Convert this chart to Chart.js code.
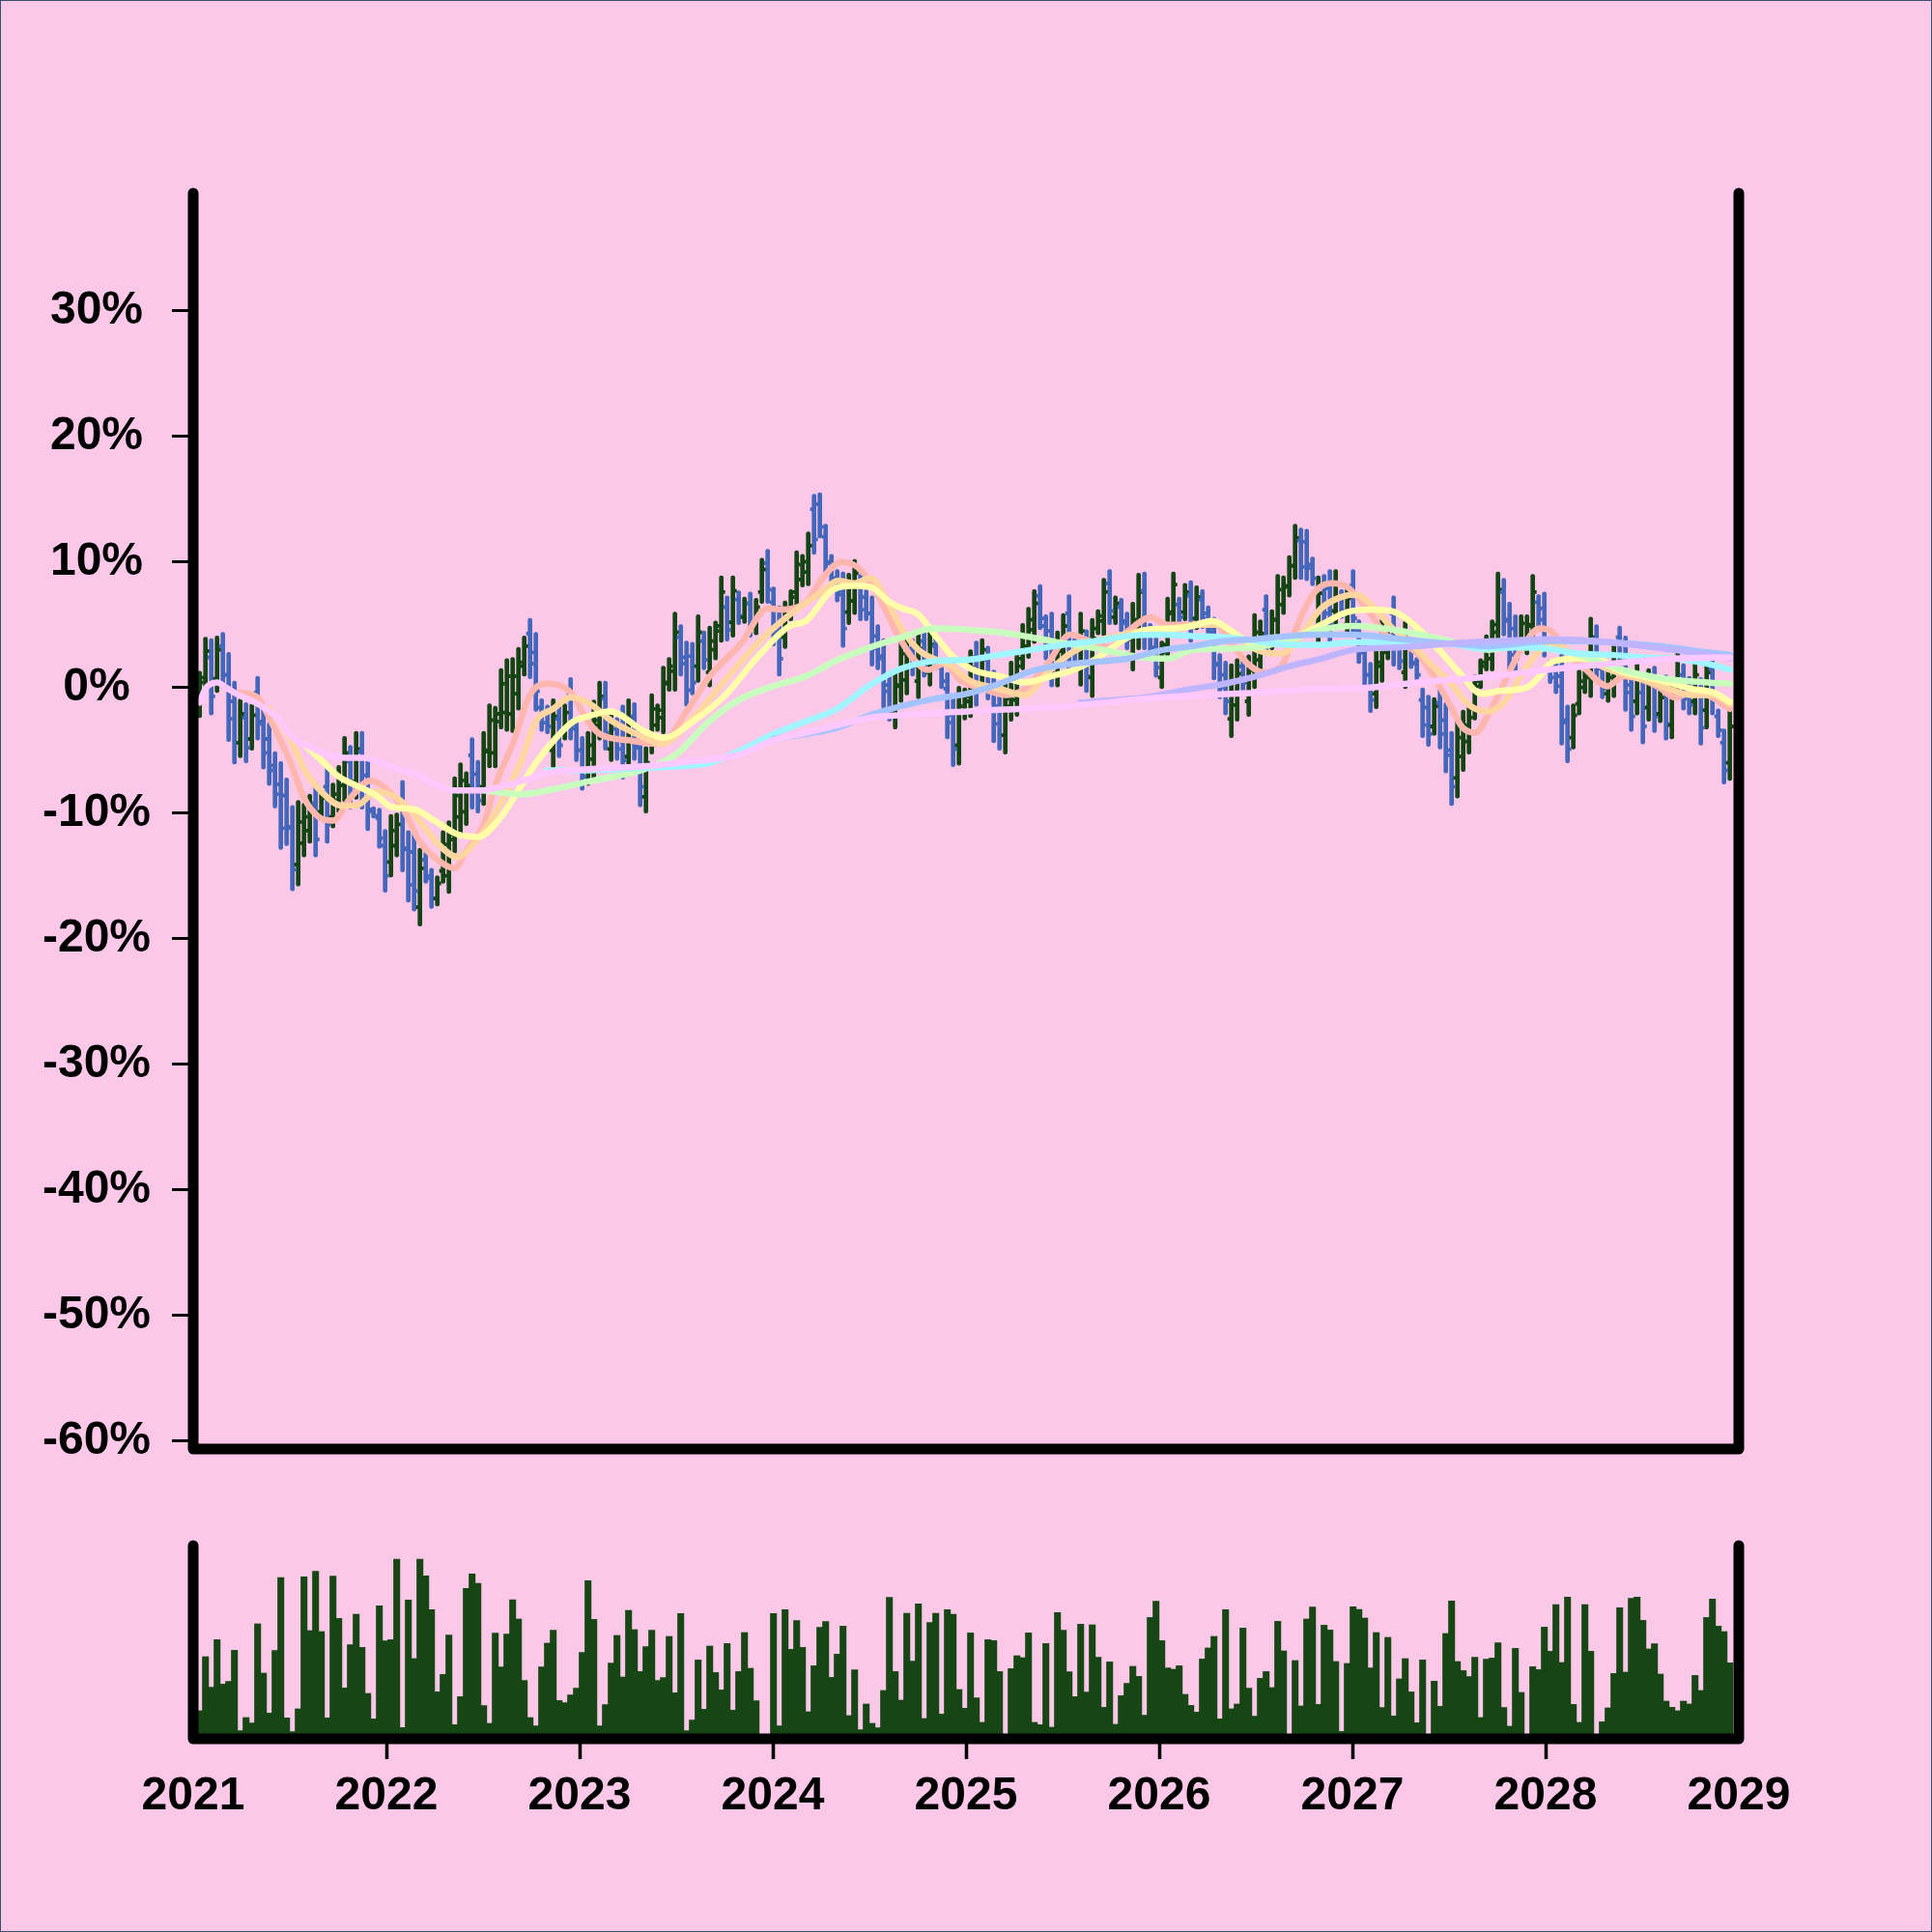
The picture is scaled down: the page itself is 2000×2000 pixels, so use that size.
<!DOCTYPE html>
<html><head><meta charset="utf-8">
<script src="https://cdn.jsdelivr.net/npm/chart.js@4.4.1/dist/chart.umd.min.js"></script>
<style>
html,body{margin:0;padding:0;background:#fcc8e8;}
#wrap{position:relative;width:2000px;height:2000px;background:#fcc8e8;overflow:hidden;}
canvas{position:absolute;left:0;top:0;}
#edge{position:absolute;left:0;top:0;width:2000px;height:2000px;box-sizing:border-box;border:1px solid #34506e;pointer-events:none;}
</style></head><body>
<div id="wrap"><canvas id="main" width="2000" height="2000"></canvas><canvas id="vol" width="2000" height="2000"></canvas><div id="edge"></div></div>
<script>
// ---- data (percent change, bar every ~11 days from early 2021) ----
const firstBarYear = 2021.0335;
const barStepYears = 0.03;
const xTickYears = [2021,2022,2023,2024,2025,2026,2027,2028,2029];
const yTickValues = [-60,-50,-40,-30,-20,-10,0,10,20,30];

const barHigh = [
1.3,4.0,3.9,4.1,4.4,2.8,0.5,-0.9,-1.2,-1.3,
0.9,-1.4,-2.8,-5.1,-5.9,-7.2,-9.4,-9.0,-9.2,-8.5,
-7.8,-8.2,-6.4,-7.6,-6.2,-3.9,-4.6,-3.5,-3.5,-5.5,
-9.5,-9.6,-11.3,-10.1,-10.0,-7.4,-11.4,-11.5,-12.8,-13.1,
-14.4,-15.0,-11.4,-10.6,-7.1,-6.0,-6.7,-4.0,-5.8,-3.5,
-1.3,-1.5,1.5,2.3,2.4,3.2,4.1,5.5,4.4,-0.9,
-1.4,-0.9,-1.4,-1.3,0.8,-2.4,-3.9,-3.5,-1.0,0.5,
0.5,-1.9,-2.4,-1.4,-0.9,-1.2,-3.2,-4.7,-0.5,-1.3,
1.7,2.4,6.0,5.0,3.7,3.6,5.8,4.5,4.9,5.3,
8.9,7.3,8.9,7.7,7.2,7.6,7.1,10.3,11.0,8.0,
6.5,6.9,7.8,10.9,10.6,12.4,15.4,15.5,13.0,10.6,
9.4,9.2,9.1,10.2,9.0,7.8,7.3,5.0,3.9,1.2,
1.4,4.0,4.2,3.9,4.5,4.6,4.5,4.0,2.2,1.2,
-0.8,0.1,0.0,3.0,3.7,3.9,3.3,1.4,-0.4,0.6,
2.1,3.0,5.1,6.4,7.8,8.2,5.8,6.0,4.5,5.9,
7.4,4.2,6.0,4.6,5.5,6.2,8.7,9.4,7.3,7.1,
6.0,6.8,9.1,9.2,5.1,4.0,3.7,7.2,9.2,7.2,
8.3,8.5,8.1,7.8,6.5,5.6,2.7,2.1,1.9,2.3,
2.4,2.6,5.9,5.4,7.4,6.2,9.0,8.9,10.5,13.0,
12.7,12.6,10.4,8.9,9.0,9.4,9.4,7.8,8.1,9.4,
5.4,3.7,2.0,3.2,5.5,4.6,7.3,4.2,5.3,3.6,
2.4,0.0,-0.6,-0.8,0.0,-1.2,-3.5,-2.4,-1.8,-1.4,
1.0,2.3,4.2,5.4,9.2,8.7,6.8,5.8,5.8,5.8,
9.0,7.4,7.6,2.2,2.1,2.7,-1.4,-1.3,1.4,1.4,
5.6,5.0,2.3,1.4,3.6,4.9,4.1,1.4,2.1,1.0,
1.5,1.7,-0.1,1.0,0.5,3.2,1.9,0.9,2.1,0.8,
2.7,2.7,-1.7,-3.3,-1.7];

const barLow = [
-2.4,-0.3,-2.2,-0.4,-0.1,-4.3,-6.1,-5.6,-6.0,-5.0,
-4.2,-6.5,-7.8,-9.6,-12.9,-12.6,-16.2,-15.8,-13.5,-12.4,
-13.5,-10.5,-12.4,-11.2,-10.0,-9.1,-9.7,-8.9,-9.7,-11.4,
-10.4,-12.8,-16.3,-15.1,-13.5,-14.7,-17.1,-17.8,-19.0,-15.6,
-17.6,-17.4,-15.6,-16.4,-13.2,-11.7,-11.0,-9.7,-10.0,-9.4,
-6.4,-6.4,-3.3,-3.5,-3.6,-1.8,0.9,0.7,-1.9,-3.5,
-3.7,-6.4,-5.6,-4.2,-4.2,-5.9,-8.2,-7.8,-7.3,-4.2,
-5.0,-5.9,-5.8,-7.3,-7.1,-5.8,-9.5,-10.0,-5.3,-3.5,
-3.7,-0.3,-0.3,0.9,-1.5,-0.6,0.4,1.4,0.0,2.2,
3.6,3.7,4.0,5.0,5.1,4.0,4.2,6.7,6.7,3.3,
0.9,3.1,5.3,6.5,8.0,8.1,10.6,11.9,8.9,8.0,
6.8,3.2,5.0,5.8,5.3,5.3,1.7,1.4,-1.7,-2.7,
-3.3,-1.2,-0.6,0.9,-0.9,0.8,0.1,1.4,-0.1,-4.1,
-6.3,-6.2,-2.6,-2.4,-1.5,0.2,-1.0,-4.4,-5.0,-5.3,
-2.7,-2.3,1.4,2.3,3.5,4.6,2.2,0.0,0.0,1.9,
1.4,1.3,0.1,-0.4,-0.8,4.2,4.1,5.0,5.0,4.4,
3.0,1.3,3.0,3.0,2.4,0.8,-0.1,2.1,5.0,5.0,
5.3,3.6,4.6,4.7,4.1,0.6,-0.9,-2.2,-4.0,-2.7,
-0.3,-2.3,-0.1,1.2,2.6,3.0,4.2,5.8,7.2,8.6,
8.6,8.5,8.1,3.5,4.9,3.5,5.0,5.5,4.0,4.2,
1.9,0.1,-2.0,-1.7,0.4,2.2,1.7,1.4,-0.1,1.5,
0.5,-4.0,-4.7,-3.8,-4.9,-6.8,-9.4,-8.8,-6.7,-5.3,
-2.6,-0.1,1.3,1.3,3.6,4.1,1.2,1.2,3.0,2.6,
3.5,4.8,2.4,0.3,-0.5,-4.6,-6.0,-4.9,-2.2,-0.5,
-0.8,0.6,-0.9,-1.2,-0.8,1.2,-1.9,-3.5,-2.2,-4.5,
-2.7,-3.6,-2.8,-4.2,-4.1,-0.6,-1.8,-2.2,-2.2,-4.6,
-3.3,-2.2,-4.0,-7.7,-7.4];

const barOpen = [
-1.5,0.8,2.4,0.7,3.3,1.0,-1.1,-4.4,-2.4,-4.1,
-0.4,-2.7,-4.1,-6.2,-7.7,-8.6,-11.1,-14.1,-12.4,-11.4,
-9.2,-9.9,-7.9,-10.3,-9.0,-7.8,-5.9,-7.5,-5.1,-7.0,
-9.7,-10.4,-12.6,-13.9,-12.6,-9.2,-12.8,-13.1,-17.5,-13.7,
-15.2,-16.8,-14.6,-15.0,-11.7,-10.3,-9.9,-5.4,-6.9,-7.9,
-5.1,-5.2,-2.1,-2.0,-2.1,-0.5,1.7,4.3,2.8,-1.6,
-2.0,-5.0,-2.5,-3.5,-0.5,-3.3,-5.0,-6.7,-5.7,-3.0,
-0.9,-4.9,-3.3,-2.9,-5.5,-2.3,-4.8,-8.7,-4.1,-3.0,
-2.4,0.4,1.3,4.0,2.4,2.5,1.7,3.7,1.2,3.0,
4.9,6.4,5.2,7.0,5.6,6.7,4.9,7.6,9.9,6.8,
5.1,4.0,5.9,7.6,8.6,9.2,14.2,14.6,12.0,10.0,
8.7,7.7,6.0,6.9,8.1,7.2,5.9,4.1,2.5,0.2,
-2.1,0.1,0.6,3.1,0.5,3.7,1.2,3.3,1.6,-0.1,
-2.2,-4.6,-1.9,-1.1,2.4,1.1,2.2,0.0,-1.5,-3.8,
-1.5,-1.0,2.3,3.3,4.6,7.3,4.9,4.5,1.1,2.9,
5.9,3.5,1.6,3.4,0.8,4.7,5.3,8.3,5.6,6.4,
5.3,2.7,4.5,7.7,4.4,3.2,0.8,3.4,6.0,6.6,
6.0,7.3,5.5,7.0,5.9,4.4,1.8,1.0,-2.5,-1.4,
1.7,-1.1,1.4,2.2,6.2,3.8,5.4,6.6,8.0,9.7,
11.7,11.6,9.8,4.9,8.0,7.9,6.1,7.2,5.0,8.1,
4.5,2.8,1.0,-0.5,1.7,2.8,5.9,3.5,1.2,3.1,
1.9,-1.0,-1.6,-3.1,-1.2,-2.6,-5.0,-7.2,-5.5,-4.3,
-1.7,0.5,2.0,2.3,5.0,7.6,5.4,4.7,3.7,3.4,
4.9,6.8,6.3,1.7,1.4,0.9,-2.6,-4.0,-1.3,0.0,
0.8,3.9,1.5,-0.5,0.3,4.0,2.6,0.2,-1.1,-0.4,
-1.6,0.4,-2.1,-0.3,-3.0,0.3,1.0,0.1,-1.1,-0.6,
-1.8,1.5,-2.3,-4.4,-6.0];

const barClose = [
0.4,2.9,-0.7,3.0,1.0,-2.5,-4.4,-2.1,-4.8,-2.2,
-2.9,-5.2,-6.6,-8.5,-11.2,-11.2,-14.5,-10.7,-10.3,-9.5,
-12.1,-8.8,-10.9,-8.5,-7.2,-5.2,-8.4,-4.9,-8.2,-9.9,
-10.2,-12.0,-15.0,-11.4,-10.9,-12.9,-15.7,-16.2,-14.4,-15.0,
-16.8,-15.6,-12.5,-12.1,-8.6,-7.4,-7.8,-8.3,-9.0,-5.0,
-2.6,-2.7,0.3,0.9,0.9,2.0,3.3,1.9,-0.3,-2.8,
-3.1,-2.3,-4.6,-2.0,-3.0,-5.0,-7.1,-4.6,-2.6,-0.7,
-3.6,-2.9,-4.9,-5.8,-2.5,-4.6,-7.9,-6.0,-1.7,-1.8,
0.3,1.7,4.4,1.9,-0.2,0.4,4.4,2.2,3.7,4.5,
7.6,4.6,7.7,5.7,6.7,4.9,6.4,9.4,7.8,4.5,
2.3,6.0,7.2,9.8,10.0,11.3,11.8,12.8,9.9,8.6,
7.4,4.7,8.1,9.1,6.2,5.9,3.1,2.3,-0.3,-1.7,
0.2,2.7,3.0,1.7,3.1,1.7,3.4,2.0,0.5,-2.8,
-4.9,-1.5,-0.7,1.6,-0.2,3.0,0.1,-2.9,-3.8,-0.9,
0.9,1.7,4.2,5.4,6.7,5.5,3.1,1.5,3.4,4.9,
2.9,2.0,4.5,0.9,3.9,5.7,7.6,6.1,6.7,5.1,
3.8,5.4,7.6,4.5,3.1,1.6,2.8,5.9,8.2,5.6,
7.6,4.8,7.2,5.5,4.7,1.9,0.0,-1.1,0.4,1.1,
0.4,1.4,4.4,4.3,3.8,5.4,7.8,8.1,9.7,11.9,
9.6,9.5,8.7,7.5,5.9,5.0,8.3,6.1,7.1,5.5,
2.8,1.0,-1.0,2.0,4.2,4.0,3.1,2.1,3.9,2.0,
1.0,-3.0,-3.7,-1.5,-3.7,-5.4,-7.9,-4.0,-3.0,-2.4,
0.1,1.7,3.5,4.4,7.8,5.3,2.6,2.3,5.1,5.0,
7.6,5.4,3.7,0.8,0.1,-2.8,-4.9,-2.2,0.5,0.9,
4.0,1.7,-0.1,0.8,2.5,2.1,-0.4,-2.3,1.0,-3.1,
0.4,-2.3,-0.8,-2.9,-0.6,2.2,-0.9,-1.4,1.0,-3.2,
1.2,-1.0,-3.4,-6.6,-3.1];

const barVolume = [
14.5,42.5,26.7,51.3,28.3,29.7,45.8,4.2,11,8.2,
59.5,34,13.3,45.7,83.5,10.8,3.7,15.5,83.8,56,
86.7,55.5,10.8,84.2,62.3,26.3,48.7,64.5,47.3,23.5,
10.3,68.8,50.7,51.3,93,5.8,71.8,41.5,93,84.3,
66.8,24.3,33.3,53.7,7.3,21.8,77.8,85.3,80.5,17.2,
8,54.7,37.2,54.2,72,62,30.2,11,6.7,37.2,
49.5,56.2,19.8,18.7,22.7,26.2,44.7,81.8,61.8,6.7,
17.7,39.2,53.5,32,66.5,56.5,34.8,47.7,56.2,30.2,
31.7,53,23.8,64.8,4.2,9.7,40.8,15.3,48,34.3,
25.3,49.3,14.8,34.8,55,36.5,19.7,0,0,64.8,
6.7,66.8,46.3,61.2,47.3,14,37.8,57.7,60.7,31.8,
43.8,58.3,12,35.7,4.7,18,8,5.7,25,73.2,
34.8,20,65,40.2,69.8,10.5,60.2,65,12.8,66.8,
64.5,25.5,15.8,54.8,21.2,8.5,51.3,50.8,34.8,0,
36.3,43,42,54.8,8.5,7.3,49.3,6,65.3,56.2,
34.7,21.8,59.3,24.2,59,42.2,16.3,39.8,7.5,22.3,
28.7,37.5,32.3,12.2,62.8,71.2,50.8,36.7,36,37.8,
23,17.3,13.8,41.3,47,53,10.3,66.8,15.5,18,
57.3,26.2,11.7,31.3,34.8,26.5,60.8,45.5,0,40.5,
17,62,68.2,17.8,58.8,56.3,40,3.8,39,68.3,
67,62.5,36.7,55,16.2,52.5,11.8,31,41.5,24.3,
8.3,40.8,0,29.8,16.8,54.5,71.3,40,35.3,32.2,
42.2,11,41.2,41.8,49.7,16.2,6.5,46.8,24,0,
37.3,35.8,57.8,45.3,69.5,39.5,73.3,17.8,8.5,69.5,
45.3,0,8.8,16,33.8,67.8,34.5,72.7,73.3,61.3,
46.5,49.2,33.5,19.5,16.3,14.5,19.5,18,32.8,25,
62.8,72.3,58.3,55.5,39.3];

// moving-average style lines: [bar index, percent]
const maSalmon = [[7,-0.4],[10,-0.8],[12,-2.4],[15.5,-5.8],[18,-8.8],[20.5,-10.3],[23,-10.6],[26,-8.8],[29.5,-7.4],[32,-8.0],[35,-9.6],[38,-12.3],[41,-13.7],[44,-14.4],[46,-13.0],[49,-10.9],[51,-7.8],[54,-4.5],[57,-0.6],[60,0.3],[64,-0.4],[67,-2.7],[69,-3.7],[74,-4.2],[79.5,-4.5],[84,-1.9],[88,0.9],[93.4,3.5],[98,6.3],[100.7,6.2],[104.6,6.8],[107.3,8.6],[110.7,10.0],[114,9.4],[117.3,7.1],[120.1,4.5],[122.9,2.4],[125.7,1.4],[128.5,1.9],[131.2,0.6],[135.8,-0.2],[139.1,-0.6],[142.4,-0.1],[146.3,1.9],[150.2,4.2],[153.5,3.7],[156.9,3.2],[160.2,4.5],[164.1,5.6],[166.9,5.0],[171.3,5.0],[174.7,5.3],[178,3.5],[180.8,1.9],[183.6,1.2],[186.9,1.9],[189.7,5.3],[192.4,7.6],[195.2,8.3],[198,8.0],[201.8,6.0],[204.6,4.2],[207.3,3.5],[210.1,2.7],[212.9,0.9],[215.7,-1.4],[217.9,-3.2],[220.1,-3.6],[222.3,-2.2],[225.1,0.4],[227.9,2.95],[231.2,4.7],[233.4,4.4],[235.7,2.95],[239,1.5],[242.9,0.1],[245.7,0.9],[249,0.6],[251.8,0.0],[254.6,-0.8],[257.3,-0.4],[260.1,-0.6],[264,-1.7]];
const maPeach = [[12,-1.7],[15.5,-4.0],[18,-6.5],[21,-8.3],[24.5,-9.4],[27,-9.4],[30.5,-8.3],[34,-8.8],[37,-10.1],[41,-12.4],[44.5,-13.5],[47,-12.6],[50.5,-10.4],[53,-8.3],[55.5,-5.8],[58,-2.7],[61,-1.7],[64,-0.8],[67,-1.2],[71.2,-2.7],[76.8,-4.0],[79.6,-4.5],[85.1,-2.4],[90.7,0.6],[96.2,3.5],[101.8,5.8],[107.3,7.6],[110.1,8.5],[112.9,8.3],[115.7,8.7],[118.4,7.1],[120.7,5.0],[124,3.0],[129.6,1.7],[133,0.5],[138,-0.1],[142.4,-0.6],[146.3,1.2],[150.2,2.7],[154.7,3.7],[159.1,4.2],[163.5,4.6],[168,4.7],[172.4,5.0],[175.8,5.0],[179.1,4.0],[182.4,3.0],[185.8,2.7],[188,3.0],[190.8,4.7],[193.5,6.3],[196.9,7.2],[199.5,7.4],[202.3,6.5],[205.7,4.75],[209,3.5],[212.3,1.9],[215.7,0.4],[219,-1.4],[222.3,-1.9],[225.1,-1.15],[227.9,0.9],[230.7,2.7],[233.4,3.5],[236.8,2.7],[240.1,2.05],[243.4,1.4],[246.8,0.9],[250.1,0.5],[253.4,-0.1],[257.3,-0.6],[261.2,-0.6],[264,-1.3]];
const maYellow = [[18,-4.5],[21,-5.8],[24,-7.1],[27,-7.8],[30.5,-8.6],[33,-9.5],[37,-9.7],[40.5,-10.6],[44.5,-11.7],[48,-11.9],[51.5,-10.6],[55.5,-7.8],[58,-6.0],[61.5,-4.0],[64.5,-2.7],[67,-2.3],[70.7,-1.9],[76.8,-3.5],[80.1,-4.0],[85.1,-2.7],[90.7,-0.6],[96.2,2.4],[101.8,4.9],[104.6,5.3],[109,7.7],[112.9,8.1],[115.7,8.0],[119,6.8],[121.2,6.3],[124,5.8],[126.8,4.2],[130.1,2.4],[134,1.3],[138,0.9],[142.4,0.4],[146.9,0.9],[150.8,1.4],[154.7,2.3],[159.1,3.7],[163.5,4.6],[168,4.7],[171.3,4.9],[174.7,5.3],[178,4.5],[181.3,3.6],[185.2,3.5],[189.1,4.0],[193.5,5.0],[198,6.0],[202.3,6.2],[206.2,6.0],[210.1,4.75],[213.4,3.2],[217.3,1.2],[221.2,-0.5],[224.6,-0.25],[229,0.0],[231.2,0.9],[233.4,2.05],[237.9,2.3],[241.2,2.3],[244.6,1.4],[249,0.9],[253.4,0.4],[257.3,-0.1],[261.2,-0.4],[264,-1.15]];
const maGreen = [[49,-8.2],[55.5,-8.5],[61,-8.1],[67,-7.5],[76.8,-6.5],[82.3,-5.3],[87.9,-2.7],[93.4,-0.9],[99,0.1],[104.6,0.9],[110.1,2.2],[115.7,3.2],[121.2,4.0],[126.8,4.7],[132.4,4.6],[138,4.4],[143.5,4.0],[148,3.6],[153.5,3.2],[158,2.8],[162.5,2.4],[167,2.3],[171.3,3.0],[177,3.1],[182.4,3.2],[188,3.8],[193.5,4.6],[199,4.9],[207.3,4.5],[215.7,3.7],[222.3,3.0],[226.8,3.2],[232.3,3.1],[237.9,2.6],[243.4,1.7],[249,1.0],[254.6,0.6],[260.1,0.4],[264,0.3]];
const maCyan = [[60,-6.6],[67,-6.6],[75.7,-6.4],[82,-6.3],[88,-6.0],[93.4,-5.0],[99,-3.7],[104.6,-2.7],[110,-1.7],[115.7,0.2],[121,1.5],[126.8,2.1],[132.4,2.2],[138,2.6],[143.5,3.0],[149,3.4],[154.7,3.7],[160.2,4.1],[165.8,4.2],[171.3,4.1],[176.9,4.0],[182.4,3.7],[188,3.4],[193.5,3.4],[199,3.6],[204.6,3.6],[210.1,3.5],[215.7,3.5],[221.2,3.1],[226.8,3.2],[232.3,3.1],[237.9,2.7],[243.4,2.6],[249,2.4],[254.6,2.3],[260.1,1.9],[264,1.4]];
const maLightBlue = [[99,-4.1],[104.6,-3.7],[110,-3.2],[115.7,-2.2],[121,-1.5],[126.8,-0.9],[132.4,-0.5],[138,0.3],[143.5,1.3],[149.1,1.8],[154.7,2.05],[160.2,2.3],[165.8,2.95],[171.3,3.3],[176.9,3.7],[182.4,3.85],[188,4.1],[193.5,4.2],[199,4.2],[207.3,3.85],[215.7,3.5],[222.3,3.3],[229.6,3.6],[235.1,3.7],[243.4,3.6],[251.8,3.3],[260.1,2.8],[264,2.6]];
const maLavender = [[152,-1.2],[158,-1.0],[163,-0.8],[171.3,-0.1],[176.9,0.3],[182.4,0.9],[188,1.7],[193.5,2.3],[199,3.0],[207.3,3.2],[215.7,3.5],[224,3.7],[232.3,3.85],[240.7,3.7],[249,3.3],[257.3,2.8],[264,2.3]];
const maPink = [[0,-1.2],[1,-0.1],[3,0.4],[4.5,0.0],[6.7,-0.6],[10,-1.3],[13.3,-2.4],[16,-4.0],[18.9,-4.7],[22.2,-5.4],[25,-5.6],[28.3,-5.6],[32.8,-6.3],[37.2,-6.9],[41.1,-7.8],[43.9,-8.2],[48.3,-8.2],[52.8,-7.8],[57.2,-7.2],[60,-6.8],[67,-6.5],[76,-6.3],[82.3,-6.0],[93.4,-5.3],[99,-4.2],[104.6,-3.6],[110.1,-3.0],[115.7,-2.4],[121.2,-2.2],[132.4,-1.9],[149.1,-1.5],[165.8,-0.8],[182.4,-0.4],[193.5,-0.1],[202,0.0],[210.1,0.4],[221.2,0.8],[232.3,1.4],[243.4,1.9],[254.6,2.3],[264,2.4]];

// ---- build ----
const barDates = barHigh.map((_, i) => firstBarYear + barStepYears * i);
const idxToYear = i => firstBarYear + barStepYears * i;
const UP = '#144414', DOWN = '#4466bb';
const barColors = barClose.map((c, i) => c > barOpen[i] ? UP : DOWN);
const fontSpec = {family: "'Liberation Sans', Arial, Helvetica, sans-serif", size: 48, weight: 'bold'};

const framePlugin = {
  id: 'frame',
  afterDraw(chart) {
    const {ctx, chartArea: a} = chart;
    ctx.save();
    ctx.strokeStyle = '#000'; ctx.lineWidth = 11; ctx.lineCap = 'round'; ctx.lineJoin = 'round';
    ctx.beginPath();
    ctx.moveTo(a.left, a.top); ctx.lineTo(a.left, a.bottom); ctx.lineTo(a.right, a.bottom); ctx.lineTo(a.right, a.top);
    ctx.stroke();
    ctx.restore();
  }
};

const ohlcTickPlugin = {
  id: 'ohlcTicks',
  afterDatasetDraw(chart, args) {
    if (args.index !== 0) return;
    const ys = chart.scales.y, ctx = chart.ctx;
    ctx.save();
    ctx.lineWidth = 3.8; ctx.lineCap = 'butt';
    args.meta.data.forEach((el, i) => {
      const yo = ys.getPixelForValue(barOpen[i]);
      const yc = ys.getPixelForValue(barClose[i]);
      ctx.strokeStyle = barColors[i];
      ctx.beginPath();
      ctx.moveTo(el.x - 4, yo); ctx.lineTo(el.x, yo);
      ctx.moveTo(el.x, yc); ctx.lineTo(el.x + 4, yc);
      ctx.stroke();
    });
    ctx.restore();
  }
};

const maSpecs = [
  [maSalmon, '#ffb6af', 9],
  [maPeach, '#ffd6a0', 8],
  [maYellow, '#ffffaa', 7],
  [maGreen, '#c8ffbe', 6],
  [maCyan, '#a0f5ff', 5],
  [maLightBlue, '#a5c3ff', 4],
  [maLavender, '#beb4ff', 3],
  [maPink, '#ffc8ff', 2]
];
const maDatasets = maSpecs.map(([pts, color, ord]) => ({
  type: 'line',
  data: pts.map(([i, v]) => ({x: idxToYear(i), y: v})),
  borderColor: color, borderWidth: 6.5, pointRadius: 0,
  tension: 0.4, cubicInterpolationMode: 'monotone', fill: false,
  borderCapStyle: 'round', borderJoinStyle: 'round', order: ord
}));

new Chart(document.getElementById('main'), {
  type: 'bar',
  data: {
    datasets: [{
      type: 'bar',
      data: barDates.map((x, i) => ({x, y: [barLow[i], barHigh[i]]})),
      backgroundColor: barColors, borderWidth: 0, borderSkipped: false, borderRadius: 2,
      barThickness: 4, order: 100
    }, ...maDatasets]
  },
  options: {
    responsive: false, animation: false, devicePixelRatio: 1,
    layout: {padding: {top: 200, right: 200, bottom: 500, left: 0}},
    plugins: {legend: {display: false}, tooltip: {enabled: false}},
    scales: {
      x: {type: 'linear', min: 2021, max: 2029, display: false, offset: false, grid: {offset: false}},
      y: {
        type: 'linear', min: -60.64, max: 39.36,
        afterFit: s => { s.width = 200; },
        afterBuildTicks: s => { s.ticks = yTickValues.map(v => ({value: v})); },
        ticks: {callback: v => v + '%', font: fontSpec, color: '#000', padding: 22, crossAlign: 'center'},
        grid: {drawOnChartArea: false, drawTicks: true, tickLength: 22, tickWidth: 3, tickColor: '#000'},
        border: {display: false}
      }
    }
  },
  plugins: [ohlcTickPlugin, framePlugin]
});

new Chart(document.getElementById('vol'), {
  type: 'bar',
  data: {
    datasets: [{
      data: barDates.map((x, i) => ({x, y: barVolume[i]})),
      backgroundColor: '#164614', borderWidth: 0, barThickness: 6.4
    }]
  },
  options: {
    responsive: false, animation: false, devicePixelRatio: 1,
    layout: {padding: {top: 1600, right: 200, bottom: 0, left: 200}},
    plugins: {legend: {display: false}, tooltip: {enabled: false}},
    scales: {
      x: {
        type: 'linear', min: 2021, max: 2029, offset: false,
        afterFit: s => { s.height = 200; },
        afterBuildTicks: s => { s.ticks = xTickYears.map(v => ({value: v})); },
        ticks: {callback: v => String(v), font: fontSpec, color: '#000', padding: 10, maxRotation: 0, autoSkip: false},
        grid: {
          offset: false, drawOnChartArea: false, drawTicks: true, tickLength: 21, tickWidth: 3.5,
          tickColor: c => (c.tick && (c.tick.value === xTickYears[0] || c.tick.value === xTickYears[xTickYears.length - 1])) ? 'rgba(0,0,0,0)' : '#000'
        },
        border: {display: false}
      },
      y: {display: false, min: 0, max: 100}
    }
  },
  plugins: [framePlugin]
});
</script>
</body></html>
